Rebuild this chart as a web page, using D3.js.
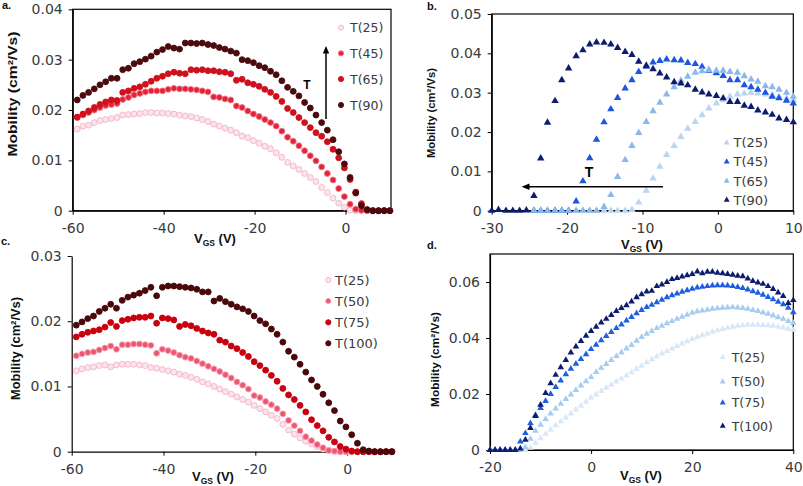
<!DOCTYPE html>
<html><head><meta charset="utf-8">
<script src="https://cdn.jsdelivr.net/npm/d3@7"></script>
<style>body{margin:0;background:#fff}svg{display:block}</style>
</head><body>
<svg id="chart" width="803" height="486"></svg>
<script>
// ---------------- DATA ----------------
// Panel a (circles), VGS in V, mobility in cm2/Vs
const vgsA = [-59,-57.75,-56.5,-55.25,-54,-52.75,-51.5,-50.25,-49,-47.75,-46.5,-45.25,-44,-42.75,-41.5,-40.25,-39,-37.75,-36.5,-35.25,-34,-32.75,-31.5,-30.25,-29,-27.75,-26.5,-25.25,-24,-22.75,-21.5,-20.25,-19,-17.75,-16.5,-15.25,-14,-12.75,-11.5,-10.25,-9,-7.75,-6.5,-5.25,-4,-2.75,-1.5,-0.25,1,2.25,3.5,4.75,6,7.25,8.5,9.75];
const muA_T25 = [0.0162,0.0168,0.0170,0.0175,0.0179,0.0181,0.0183,0.0185,0.0190,0.0191,0.0192,0.0193,0.0195,0.0195,0.0194,0.0194,0.0193,0.0192,0.0190,0.0188,0.0187,0.0184,0.0181,0.0177,0.0172,0.0168,0.0164,0.0160,0.0155,0.0148,0.0145,0.0139,0.0134,0.0128,0.0123,0.0115,0.0106,0.0096,0.0089,0.0082,0.0074,0.0066,0.0058,0.0046,0.0036,0.0025,0.0015,0.0007,0.0001,0,0,0,0,0,0,0];
const muA_T45 = [0.0185,0.0190,0.0195,0.0200,0.0205,0.0209,0.0211,0.0213,0.0221,0.0225,0.0230,0.0233,0.0236,0.0238,0.0238,0.0238,0.0241,0.0243,0.0242,0.0242,0.0241,0.0240,0.0238,0.0236,0.0226,0.0225,0.0222,0.0220,0.0208,0.0205,0.0198,0.0192,0.0187,0.0181,0.0175,0.0168,0.0158,0.0146,0.0138,0.0129,0.0119,0.0109,0.0099,0.0087,0.0074,0.0061,0.0044,0.0028,0.0013,0.0003,0.0001,0,0,0,0,0];
const muA_T65 = [0.0186,0.0192,0.0198,0.0205,0.0211,0.0216,0.0220,0.0219,0.0235,0.0238,0.0243,0.0246,0.0251,0.0257,0.0263,0.0267,0.0272,0.0275,0.0273,0.0272,0.0280,0.0279,0.0280,0.0278,0.0278,0.0276,0.0275,0.0272,0.0259,0.0261,0.0254,0.0251,0.0247,0.0241,0.0235,0.0227,0.0217,0.0203,0.0195,0.0185,0.0175,0.0165,0.0155,0.0148,0.0137,0.0122,0.0105,0.0085,0.0062,0.0037,0.0014,0.0002,0,0,0,0];
const muA_T90 = [0.0220,0.0229,0.0235,0.0242,0.0250,0.0256,0.0263,0.0263,0.0280,0.0283,0.0292,0.0296,0.0301,0.0307,0.0315,0.0320,0.0326,0.0323,0.0321,0.0333,0.0333,0.0332,0.0333,0.0330,0.0328,0.0324,0.0321,0.0317,0.0313,0.0300,0.0298,0.0294,0.0288,0.0284,0.0277,0.0270,0.0258,0.0245,0.0237,0.0228,0.0215,0.0204,0.0190,0.0175,0.0160,0.0141,0.0117,0.0093,0.0066,0.0035,0.0010,0.0002,0,0,0,0];
const namesA = ["T(25)","T(45)","T(65)","T(90)"];
const xTicksA = [-60,-40,-20,0];
const yTicksA = [0,0.01,0.02,0.03,0.04];

// Panel b (triangles)
const vgsB = [-30,-29.1,-28.1,-27.2,-26.3,-25.4,-24.4,-23.5,-22.6,-21.6,-20.7,-19.8,-18.8,-17.9,-17,-16.1,-15.1,-14.2,-13.3,-12.3,-11.4,-10.5,-9.5,-8.6,-7.7,-6.8,-5.8,-4.9,-4,-3,-2.1,-1.2,-0.2,0.7,1.6,2.6,3.5,4.4,5.3,6.3,7.2,8.1,9.1,10];
const muB_T25 = [null,null,null,null,null,null,0,0,0,0,0,0,0,0,0,0,0,0,0,0,0.0002,0.0021,0.0051,0.0082,0.0112,0.0142,0.0165,0.0188,0.0209,0.0226,0.0243,0.0260,0.0273,0.0281,0.0290,0.0296,0.0298,0.0300,0.0298,0.0296,0.0294,0.0290,0.0286,0.0281];
const muB_T45 = [null,null,null,null,null,null,0,0,0,0,0,0,0.0024,0.0075,0.0134,0.0181,0.0225,0.0258,0.0287,0.0311,0.0332,0.0353,0.0366,0.0377,0.0381,0.0385,0.0383,0.0382,0.0376,0.0373,0.0366,0.0356,0.0350,0.0343,0.0332,0.0332,0.0319,0.0314,0.0308,0.0300,0.0290,0.0286,0.0280,0.0273];
const muB_T65 = [null,null,null,null,null,null,0,0,0,0,0,0,0,0,0,0,0.0010,0.0040,0.0086,0.0129,0.0165,0.0198,0.0226,0.0253,0.0275,0.0296,0.0314,0.0331,0.0341,0.0351,0.0355,0.0358,0.0356,0.0356,0.0353,0.0351,0.0342,0.0334,0.0328,0.0317,0.0314,0.0308,0.0300,0.0290];
const muB_T90 = [0,0.0002,0,0,0,0.0001,0.0038,0.0133,0.0224,0.0279,0.0332,0.0362,0.0393,0.0408,0.0423,0.0428,0.0427,0.0423,0.0414,0.0404,0.0396,0.0379,0.0369,0.0360,0.0349,0.0339,0.0327,0.0324,0.0319,0.0308,0.0301,0.0296,0.0292,0.0286,0.0277,0.0277,0.0267,0.0264,0.0255,0.0250,0.0244,0.0235,0.0231,0.0225];
const namesB = ["T(25)","T(45)","T(65)","T(90)"];
const xTicksB = [-30,-20,-10,0,10];
const yTicksB = [0,0.01,0.02,0.03,0.04,0.05];

// Panel c (circles)
const vgsC = [-59,-57.75,-56.5,-55.25,-54,-52.75,-51.5,-50.25,-49,-47.75,-46.5,-45.25,-44,-42.75,-41.5,-40.25,-39,-37.75,-36.5,-35.25,-34,-32.75,-31.5,-30.25,-29,-27.75,-26.5,-25.25,-24,-22.75,-21.5,-20.25,-19,-17.75,-16.5,-15.25,-14,-12.75,-11.5,-10.25,-9,-7.75,-6.5,-5.25,-4,-2.75,-1.5,-0.25,1,2.25,3.5,4.75,6,7.25,8.5,9.75];
const muC_T25 = [0.0124,0.0127,0.0129,0.0130,0.0132,0.0133,0.0130,0.0133,0.0134,0.0134,0.0134,0.0133,0.0132,0.0129,0.0128,0.0126,0.0124,0.0122,0.0119,0.0117,0.0114,0.0111,0.0107,0.0104,0.0100,0.0096,0.0092,0.0088,0.0084,0.0080,0.0076,0.0071,0.0066,0.0061,0.0056,0.0051,0.0042,0.0033,0.0027,0.0021,0.0016,0.0012,0.0008,0.0004,0.0002,0,0,0,0,0,0,0,0,0,0,0];
const muC_T50 = [0.0147,0.0150,0.0152,0.0153,0.0156,0.0159,0.0162,0.0157,0.0164,0.0164,0.0165,0.0165,0.0164,0.0163,0.0151,0.0157,0.0155,0.0152,0.0148,0.0145,0.0143,0.0139,0.0135,0.0131,0.0127,0.0123,0.0118,0.0113,0.0107,0.0102,0.0096,0.0086,0.0083,0.0077,0.0072,0.0066,0.0058,0.0048,0.0040,0.0032,0.0023,0.0017,0.0011,0.0006,0.0002,0.0001,0,0,0,0,0,0,0,0,0,0];
const muC_T75 = [0.0176,0.0180,0.0183,0.0185,0.0187,0.0191,0.0198,0.0192,0.0201,0.0203,0.0205,0.0206,0.0206,0.0208,0.0197,0.0205,0.0204,0.0202,0.0192,0.0195,0.0193,0.0189,0.0185,0.0182,0.0180,0.0171,0.0168,0.0162,0.0158,0.0152,0.0146,0.0138,0.0132,0.0125,0.0117,0.0108,0.0097,0.0087,0.0080,0.0071,0.0061,0.0049,0.0040,0.0032,0.0022,0.0015,0.0008,0.0004,0.0001,0,0,0,0,0,0,0];
const muC_T100 = [0.0194,0.0199,0.0204,0.0208,0.0215,0.0220,0.0226,0.0220,0.0232,0.0237,0.0240,0.0243,0.0247,0.0252,0.0239,0.0252,0.0254,0.0254,0.0253,0.0252,0.0251,0.0249,0.0245,0.0245,0.0231,0.0235,0.0230,0.0226,0.0222,0.0219,0.0215,0.0208,0.0201,0.0196,0.0188,0.0180,0.0168,0.0154,0.0145,0.0134,0.0122,0.0110,0.0100,0.0088,0.0075,0.0063,0.0047,0.0038,0.0026,0.0013,0.0003,0.0001,0,0,0,0];
const namesC = ["T(25)","T(50)","T(75)","T(100)"];
const xTicksC = [-60,-40,-20,0];
const yTicksC = [0,0.01,0.02,0.03];

// Panel d (triangles)
const vgsD = [-20,-19,-18,-17,-16,-15,-14,-13,-12,-11,-10,-9,-8,-7,-6,-5,-4,-3,-2,-1,0,1,2,3,4,5,6,7,8,9,10,11,12,13,14,15,16,17,18,19,20,21,22,23,24,25,26,27,28,29,30,31,32,33,34,35,36,37,38,39,40];
const muD_T25 = [0,0,0,0,0,0,0,0,0.0008,0.0025,0.0042,0.0058,0.0073,0.0088,0.0102,0.0116,0.0130,0.0144,0.0158,0.0172,0.0186,0.0198,0.0210,0.0222,0.0233,0.0244,0.0255,0.0266,0.0277,0.0289,0.0301,0.0313,0.0324,0.0334,0.0344,0.0353,0.0362,0.0371,0.0380,0.0388,0.0396,0.0403,0.0410,0.0416,0.0422,0.0427,0.0432,0.0436,0.0440,0.0443,0.0445,0.0447,0.0447,0.0447,0.0446,0.0445,0.0443,0.0440,0.0437,0.0433,0.0429];
const muD_T50 = [0,0,0,0,0,0,0,0.0010,0.0040,0.0068,0.0090,0.0110,0.0130,0.0148,0.0165,0.0182,0.0198,0.0214,0.0230,0.0245,0.0260,0.0278,0.0293,0.0307,0.0321,0.0335,0.0348,0.0362,0.0375,0.0390,0.0403,0.0415,0.0425,0.0435,0.0443,0.0452,0.0460,0.0468,0.0476,0.0483,0.0490,0.0495,0.0498,0.0501,0.0504,0.0506,0.0508,0.0509,0.0510,0.0509,0.0507,0.0504,0.0500,0.0496,0.0491,0.0486,0.0480,0.0474,0.0468,0.0460,0.0453];
const muD_T75 = [0,0,0,0,0,0,0.0030,0.0060,0.0095,0.0125,0.0150,0.0175,0.0200,0.0225,0.0248,0.0270,0.0290,0.0308,0.0325,0.0342,0.0360,0.0376,0.0392,0.0407,0.0421,0.0435,0.0448,0.0462,0.0475,0.0488,0.0500,0.0510,0.0518,0.0527,0.0536,0.0545,0.0552,0.0559,0.0565,0.0570,0.0576,0.0580,0.0583,0.0585,0.0587,0.0588,0.0588,0.0587,0.0585,0.0582,0.0578,0.0573,0.0567,0.0561,0.0554,0.0546,0.0538,0.0529,0.0520,0.0508,0.0492];
const muD_T100 = [0,0,0,0,0,0,0.0005,0.0036,0.0078,0.0121,0.0161,0.0203,0.0238,0.0268,0.0295,0.0321,0.0348,0.0369,0.0389,0.0408,0.0425,0.0440,0.0455,0.0468,0.0482,0.0496,0.0507,0.0517,0.0530,0.0545,0.0556,0.0566,0.0568,0.0585,0.0591,0.0600,0.0610,0.0614,0.0619,0.0624,0.0628,0.0637,0.0631,0.0636,0.0636,0.0633,0.0631,0.0628,0.0626,0.0622,0.0620,0.0612,0.0603,0.0598,0.0593,0.0585,0.0575,0.0562,0.0550,0.0525,0.0535];
const namesD = ["T(25)","T(50)","T(75)","T(100)"];
const xTicksD = [-20,0,20,40];
const yTicksD = [0,0.02,0.04,0.06];

// ---------------- DRAWING ----------------
const svg = d3.select("#chart");
svg.append("rect").attr("width",803).attr("height",486).attr("fill","#fff");

const TICK_FONT = "'DejaVu Sans', Verdana, sans-serif";
const LAB_FONT = "'Liberation Sans', Arial, sans-serif";
const fmtY = d => d === 0 ? "0" : d.toFixed(2);

const panels = [
  { id:"a.", idPos:[2,9], vgs:vgsA, series:[muA_T25,muA_T45,muA_T65,muA_T90], names:namesA,
    fills:["#fde3eb","#e2243a","#d0101c","#4b0a0e"], strokes:["#f3b3c6","#f07585","#d0101c","#4b0a0e"],
    shape:"circle", xDomain:[-60,10], yDomain:[0,0.04], xTicks:xTicksA, yTicks:yTicksA,
    left:72.7, right:391, top:9.3, bottom:210.7, frame:true,
    ylab:{x:17, y:94, size:13.5, len:125}, xlab:{x:215, y:243},
    legend:{mx:341, tx:350, rows:[27.7,53.3,79,105], size:12.5} },
  { id:"b.", idPos:[427,10], vgs:vgsB, series:[muB_T25,muB_T45,muB_T65,muB_T90], names:namesB,
    fills:["#b9d5f2","#1b55e0","#8db8ea","#0c1c6e"], strokes:null, triSize:24,
    shape:"triangle", xDomain:[-30,10], yDomain:[0,0.05], xTicks:xTicksB, yTicks:yTicksB,
    left:491.7, right:793.3, top:14, bottom:210.7, frame:true,
    ylab:{x:435, y:113, size:11, len:90}, xlab:{x:642, y:248.5},
    legend:{mx:726.7, tx:733.5, rows:[142.7,161.7,181,200], size:13} },
  { id:"c.", idPos:[1,245], vgs:vgsC, series:[muC_T25,muC_T50,muC_T75,muC_T100], names:namesC,
    fills:["#fde3eb","#ee5573","#c8000f","#4a080b"], strokes:["#f3b3c6","#f6a2b2","#c8000f","#4a080b"],
    shape:"circle", xDomain:[-60,10], yDomain:[0,0.03], xTicks:xTicksC, yTicks:yTicksC,
    left:71.7, right:393, top:256, bottom:451.7, frame:false,
    ylab:{x:20, y:348.5, size:12, len:103}, xlab:{x:213, y:481},
    legend:{mx:328.3, tx:335, rows:[280,301,322.3,343.3], size:13} },
  { id:"d.", idPos:[427,249], vgs:vgsD, series:[muD_T25,muD_T50,muD_T75,muD_T100], names:namesD,
    fills:["#d9e8f8","#a8cbf0","#1f5ee0","#0c1c6e"], strokes:null, triSize:19,
    shape:"triangle", xDomain:[-20,40], yDomain:[0,0.07], xTicks:xTicksD, yTicks:yTicksD,
    left:490, right:793.3, top:254, bottom:450, frame:true,
    ylab:{x:439, y:359.5, size:11.5, len:95}, xlab:{x:641, y:480},
    legend:{mx:722.7, tx:731.7, rows:[357.3,381.7,402.7,426], size:12.5} }
];

function drawPanel(p){
  const x = d3.scaleLinear().domain(p.xDomain).range([p.left,p.right]);
  const y = d3.scaleLinear().domain(p.yDomain).range([p.bottom,p.top]);
  const g = svg.append("g");

  if (p.frame) {
    g.append("rect").attr("x",p.left).attr("y",p.top)
      .attr("width",p.right-p.left).attr("height",p.bottom-p.top)
      .attr("fill","none").attr("stroke","#000").attr("stroke-width",1.2);
  }
  const gy = g.append("g").attr("transform",`translate(${p.left},0)`)
    .call(d3.axisLeft(y).tickValues(p.yTicks).tickSize(4).tickSizeOuter(0).tickPadding(6).tickFormat(fmtY));
  const gx = g.append("g").attr("transform",`translate(0,${p.bottom})`)
    .call(d3.axisBottom(x).tickValues(p.xTicks).tickSize(4).tickSizeOuter(0).tickPadding(8).tickFormat(d=>String(d)));
  [gx,gy].forEach(a=>{
    a.select(".domain").attr("stroke","#000").attr("stroke-width",1.2);
    a.selectAll(".tick line").attr("stroke","#000").attr("stroke-width",1);
    a.selectAll(".tick text").attr("font-family",TICK_FONT).attr("font-size",14).attr("fill","#3a3a3a");
  });

  const tri = d3.symbol().type(d3.symbolTriangle).size(p.triSize || 20);
  const triLeg = d3.symbol().type(d3.symbolTriangle).size(15);

  p.series.forEach((vals,i)=>{
    const pts = p.vgs.map((v,j)=>({x:v, y:vals[j]})).filter(d=>d.y!==null && d.y!==undefined);
    const sg = g.append("g");
    if (p.shape==="circle") {
      sg.selectAll("circle").data(pts).join("circle")
        .attr("cx",d=>x(d.x)).attr("cy",d=>y(d.y)).attr("r",2.95)
        .attr("fill",p.fills[i]).attr("stroke",p.strokes[i]).attr("stroke-width",0.9);
    } else {
      sg.selectAll("path").data(pts).join("path")
        .attr("transform",d=>`translate(${x(d.x)},${y(d.y)})`)
        .attr("d",tri).attr("fill",p.fills[i]);
    }
    // legend
    const ly = p.legend.rows[i];
    if (p.shape==="circle") {
      g.append("circle").attr("cx",p.legend.mx).attr("cy",ly).attr("r",2.6)
        .attr("fill",p.fills[i]).attr("stroke",p.strokes[i]).attr("stroke-width",0.9);
    } else {
      g.append("path").attr("transform",`translate(${p.legend.mx},${ly})`).attr("d",triLeg).attr("fill",p.fills[i]);
    }
    g.append("text").attr("x",p.legend.tx).attr("y",ly).attr("dy","0.36em")
      .attr("font-family",TICK_FONT).attr("font-size",p.legend.size).attr("fill","#3a3a3a")
      .text(p.names[i]);
  });

  // y label
  g.append("text").attr("transform",`translate(${p.ylab.x},${p.ylab.y}) rotate(-90)`)
    .attr("text-anchor","middle").attr("font-family",LAB_FONT).attr("font-weight","bold")
    .attr("font-size",p.ylab.size).attr("fill","#111")
    .attr("textLength",p.ylab.len).attr("lengthAdjust","spacingAndGlyphs")
    .text("Mobility (cm²/Vs)");
  // x label
  const xl = g.append("text").attr("x",p.xlab.x).attr("y",p.xlab.y).attr("text-anchor","middle")
    .attr("font-family",LAB_FONT).attr("font-weight","bold").attr("font-size",13).attr("fill","#111");
  xl.append("tspan").text("V");
  xl.append("tspan").attr("font-size",8.5).attr("dy",3).text("GS");
  xl.append("tspan").attr("dy",-3).text(" (V)");
  // panel id
  g.append("text").attr("x",p.idPos[0]).attr("y",p.idPos[1]).attr("font-family",LAB_FONT)
    .attr("font-weight","bold").attr("font-size",11).attr("fill","#111").text(p.id);
}
panels.forEach(drawPanel);

// annotations: temperature arrows
const ann = svg.append("g").attr("stroke","#000").attr("fill","#000");
ann.append("line").attr("x1",326).attr("y1",119).attr("x2",326).attr("y2",51).attr("stroke-width",1.5);
ann.append("path").attr("d","M326,46 L322.8,53.5 L329.2,53.5 Z").attr("stroke","none");
ann.append("line").attr("x1",663).attr("y1",186.7).attr("x2",527).attr("y2",186.7).attr("stroke-width",1.5);
ann.append("path").attr("d","M521.5,186.7 L529.5,183.4 L529.5,190 Z").attr("stroke","none");
svg.append("text").attr("x",307).attr("y",88.5).attr("text-anchor","middle").attr("font-family",LAB_FONT)
  .attr("font-weight","bold").attr("font-size",12).attr("fill","#000").text("T");
svg.append("text").attr("x",589).attr("y",177).attr("text-anchor","middle").attr("font-family",LAB_FONT)
  .attr("font-weight","bold").attr("font-size",14).attr("fill","#000").text("T");
</script>
</body></html>
